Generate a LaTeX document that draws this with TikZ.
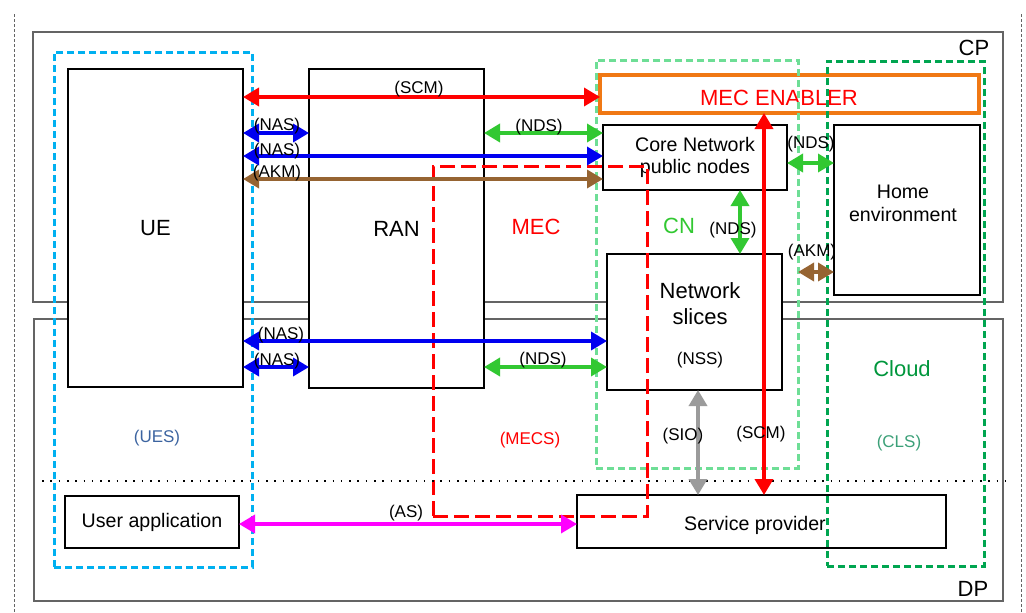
\documentclass[tikz,border=0pt]{standalone}
\usepackage{fontspec}
\setmainfont{Liberation Sans}
\usetikzlibrary{arrows.meta}
\definecolor{cRed}{RGB}{255,0,0}
\definecolor{cBlue}{RGB}{0,0,240}
\definecolor{cGreen}{RGB}{50,200,50}
\definecolor{cBrown}{RGB}{150,100,50}
\definecolor{cMag}{RGB}{255,0,255}
\definecolor{cGray}{RGB}{155,155,155}
\definecolor{cOrange}{RGB}{240,120,20}
\definecolor{cCyan}{RGB}{0,176,240}
\definecolor{cLGreen}{RGB}{110,222,150}
\definecolor{cDGreen}{RGB}{0,165,80}
\definecolor{cUES}{RGB}{60,100,160}
\definecolor{cCloud}{RGB}{0,150,60}
\definecolor{cCLS}{RGB}{60,160,120}
\definecolor{cFrame}{RGB}{100,100,100}
\begin{document}
\begin{tikzpicture}[x=1pt,y=-1pt,
  box/.style={draw=black, line width=1.6pt, fill=white, inner sep=0pt, outer sep=0pt, align=center},
  plane/.style={draw=cFrame, line width=1.1pt, inner sep=0pt, outer sep=0pt},
  grp/.style={draw, line width=3pt, dash pattern=on 7pt off 4pt, inner sep=0pt, outer sep=0pt},
  conn/.style={line width=3.5pt, {Triangle[length=16pt,width=18pt]}-{Triangle[length=16pt,width=18pt]}},
  lbl/.style={font=\fontsize{17}{20}\selectfont, anchor=base, inner sep=0pt},
  big/.style={font=\fontsize{22}{26}\selectfont},
  mid/.style={font=\fontsize{19.6}{22.5}\selectfont},
  txt/.style={anchor=base, inner sep=0pt},
]
\useasboundingbox (0,0) rectangle (1026,613);
% outer dashed margins
\draw[cFrame, line width=0.8pt, dash pattern=on 3pt off 2pt] (14,14) -- (14,613);
\draw[cFrame, line width=0.8pt, dash pattern=on 3pt off 2pt] (1021,14) -- (1021,613);
% planes
\node[plane, minimum width=970, minimum height=270] (cp) at (518,167) {};
\node[plane, minimum width=969, minimum height=282] (dp) at (518.5,460) {};
% solid boxes
\node[box, big, minimum width=175, minimum height=318] (ue) at (155.5,228) {UE};
\node[box, big, minimum width=175, minimum height=319] (ran) at (396.5,228.5) {RAN};
\node[box, mid, minimum width=184, minimum height=65] (core) at (695,157.5) {Core Network\\public nodes};
\node[box, minimum width=146, minimum height=170] (home) at (907,210) {};
\node[box, minimum width=175, minimum height=136] (slices) at (694.5,322) {};
\node[box, minimum width=369, minimum height=53] (sp) at (761.5,521.5) {};
\node[box, mid, minimum width=174, minimum height=52] (ua) at (152,522) {User application};
\node[box, draw=cOrange, line width=3.5pt, minimum width=379, minimum height=38] (enabler) at (789.5,94) {};
% texts in boxes
\node[txt, mid] (home1) at (903,198) {Home};
\node[txt, mid] (home2) at (903,221) {environment};
\node[txt, big] (sl1) at (700,298) {Network};
\node[txt, big] (sl2) at (700,324) {slices};
\node[lbl] (nss) at (700,364) {(NSS)};
\node[txt, mid] (sptext) at (755,530) {Service provider};
\node[txt, big, text=cRed] (entext) at (779,105) {MEC ENABLER};
% groups
\node[grp, draw=cCyan, minimum width=198, minimum height=515] (ues) at (153,309.5) {};
\node[grp, draw=cLGreen, minimum width=202, minimum height=408] (cn) at (697,264) {};
\node[grp, draw=cDGreen, minimum width=157, minimum height=505] (cloud) at (905.5,313.5) {};
\node[grp, draw=cRed, dash pattern=on 15pt off 6pt, minimum width=214, minimum height=350] (mecr) at (540,341) {};
% dotted separator
\draw[black, line width=1.6pt, dash pattern=on 1.6pt off 6.7pt] (42,481) -- (1008,481);
% connectors
\draw[conn, cRed] (ue.east |- 0,97) -- (enabler.west |- 0,97);
\draw[conn, cBlue] (ue.east |- 0,133) -- (ran.west |- 0,133);
\draw[conn, cBlue] (ue.east |- 0,156) -- (core.west |- 0,156);
\draw[conn, cBrown] (ue.east |- 0,179) -- (core.west |- 0,179);
\draw[conn, cGreen] (ran.east |- 0,133) -- (core.west |- 0,133);
\draw[conn, cGreen] (core.east |- 0,163) -- (home.west |- 0,163);
\draw[conn, cGreen] (core.south -| 740,0) -- (slices.north -| 740,0);
\draw[conn, cBrown] (cn.east |- 0,272) -- (home.west |- 0,272);
\draw[conn, cRed] (enabler.south -| 764,0) -- (sp.north -| 764,0);
\draw[conn, cBlue] (ue.east |- 0,341) -- (slices.west |- 0,341);
\draw[conn, cBlue] (ue.east |- 0,367) -- (ran.west |- 0,367);
\draw[conn, cGreen] (ran.east |- 0,367) -- (slices.west |- 0,367);
\draw[conn, cGray] (slices.south -| 698,0) -- (sp.north -| 698,0);
\draw[conn, cMag] (ua.east |- 0,524) -- (sp.west |- 0,524);
% connector labels
\node[lbl] (l1) at (419,93) {(SCM)};
\node[lbl] (l2) at (277,130) {(NAS)};
\node[lbl] (l3) at (277,155) {(NAS)};
\node[lbl] (l4) at (277,177) {(AKM)};
\node[lbl] (l5) at (539,131) {(NDS)};
\node[lbl] (l6) at (811,148) {(NDS)};
\node[lbl] (l7) at (733,234) {(NDS)};
\node[lbl] (l8) at (812,256) {(AKM)};
\node[lbl] (l9) at (761,438) {(SCM)};
\node[lbl] (l10) at (683,440) {(SIO)};
\node[lbl] (l11) at (281,339) {(NAS)};
\node[lbl] (l12) at (277,365) {(NAS)};
\node[lbl] (l13) at (543,364) {(NDS)};
\node[lbl] (l14) at (406,517) {(AS)};
% region labels
\node[txt, big, text=cRed] (mec) at (536,234) {MEC};
\node[txt, big, text=cGreen] (cnl) at (679,233) {CN};
\node[txt, big, text=cCloud] (cloudl) at (902,376) {Cloud};
\node[lbl, text=cCLS] (cls) at (899,447) {(CLS)};
\node[lbl, text=cUES] (uesl) at (157,442) {(UES)};
\node[lbl, text=cRed] (mecs) at (530,444) {(MECS)};
\node[txt, big] (cpl) at (974,55) {CP};
\node[txt, big] (dpl) at (973,596) {DP};
\end{tikzpicture}
\end{document}
